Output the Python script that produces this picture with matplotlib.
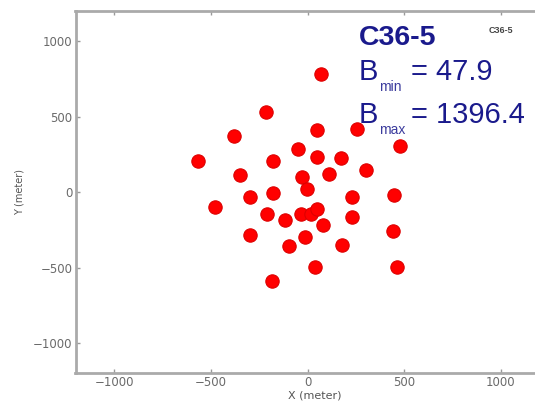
import numpy as np
import matplotlib
matplotlib.use("Agg")
import matplotlib.pyplot as plt
from matplotlib.transforms import IdentityTransform

# antenna positions for configuration C36-5 (meters)
ant_x = [70, -214, -381, 49, 254, 479, -49, -564, -180, 49, 173, -348,
         -31, 111, 300, -3, -181, -298, 231, 449, -479, -212, -114, -36,
         18, 49, 81, -300, -13, -94, 231, 444, 181, 464, 39, -182]
ant_y = [782, 532, 373, 410, 420, 310, 289, 208, 208, 237, 225, 115,
         101, 119, 146, 25, -7, -33, -31, -21, -95, -144, -184, -144,
         -144, -111, -220, -285, -298, -357, -166, -255, -348, -493, -497, -587]

config_name = "C36-5"
b_min = 47.9
b_max = 1396.4
ticks = [-1000, -500, 0, 500, 1000]

W, H = 535, 405
fig = plt.figure(figsize=(W / 100, H / 100), dpi=100)
# right edge of the frame falls just outside the picture
ax = fig.add_axes([75.5 / W, 31.7 / H, 464 / W * 1.03, 362 / H])
span = 1200 * 1.03
ax.set_xlim(-1200, -1200 + 2 * span)

ax.plot(ant_x, ant_y, "o", color="#ff0000", markersize=9.6,
        markeredgecolor="#dd0000", markeredgewidth=0.8)

ax.set_ylim(-1200, 1200)
ax.set_xticks(ticks)
ax.set_yticks(ticks)
ax.set_xticklabels(["\u2212%d" % -t if t < 0 else "%d" % t for t in ticks])
ax.set_yticklabels(["\u2212%d" % -t if t < 0 else "%d" % t for t in ticks])
ax.tick_params(direction="in", length=3, width=1, color="#999999",
               labelcolor="#6a6a6a", labelsize=8.5, top=True, right=True, pad=2)
for s in ax.spines.values():
    s.set_color("#aaaaaa")
    s.set_linewidth(2)

ax.set_xlabel("X (meter)", fontsize=8, color="#555555", labelpad=1)
ax.set_ylabel("Y (meter)", fontsize=7, color="#555555", labelpad=6)

# annotation text placed in pixel coordinates (from top-left)
tr = IdentityTransform()
navy = "#1a1a8c"
font = "Liberation Sans"

def put(x, y, s, **kw):
    fig.text(x, H - y, s, transform=tr, va="baseline", ha="left",
             family=font, color=navy, **kw)

put(359, 45, config_name, fontsize=20.5, fontweight="bold")
put(359, 80, "B", fontsize=21)
put(379, 91, "min", fontsize=10, alpha=0.85)
put(411, 80, "= %.1f" % b_min, fontsize=21)
put(359, 123, "B", fontsize=21)
put(379, 134, "max", fontsize=10, alpha=0.85)
put(411, 123, "= %.1f" % b_max, fontsize=21)

fig.text(489, H - 33, config_name, transform=tr, fontsize=6.5, color="#444444",
         family=font, fontweight="bold", va="baseline", ha="left")

fig.savefig("out.png", dpi=100)
